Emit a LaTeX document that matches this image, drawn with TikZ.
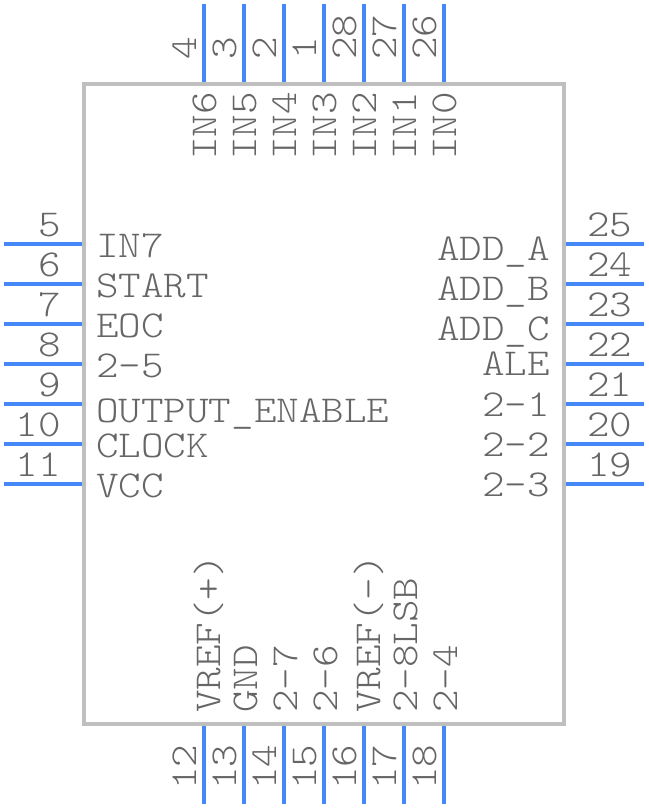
\documentclass[tikz,border=0pt]{standalone}
\usepackage{fontspec}
\setmonofont[FakeStretch=1.13]{Latin Modern Mono Light}
\definecolor{bodygray}{HTML}{BFBFBF}
\definecolor{pinblue}{HTML}{4488F8}
\definecolor{txtgray}{HTML}{666666}
\tikzset{
  body/.style={draw=bodygray,line width=4pt},
  pin/.style={draw=pinblue,line width=4pt},
  lbl/.style={text=txtgray,inner sep=0pt,font=\fontsize{38}{38}\ttfamily},
  lw/.style={lbl,anchor=base west},
  le/.style={lbl,anchor=base east},
  rlw/.style={lbl,anchor=base west,rotate=90}
}
\begin{document}
\begin{tikzpicture}[x=1pt,y=-1pt]
\useasboundingbox (0,0) rectangle (648,808);
\coordinate (bnw) at (84,84);
\coordinate (bse) at (564,724);
\draw[body] (bnw) rectangle (bse);
% left pins
\foreach \n/\y/\t/\by in {5/244/IN7/257,6/284/START/297,7/324/EOC/337,8/364/2-5/377,9/404/OUTPUT\_ENABLE/422,10/444/CLOCK/457,11/484/VCC/497}{
  \coordinate (a\n) at (4,\y); \coordinate (b\n) at (82,\y);
  \draw[pin] (a\n) -- (b\n);
  \node[le] (num\n) at (61,\y-8) {\n};
  \node[lw] (name\n) at (96,\by) {\t};
}
% right pins
\foreach \n/\y/\t/\by in {25/244/ADD\_A/260,24/284/ADD\_B/300,23/324/ADD\_C/340,22/364/ALE/375,21/404/2-1/416,20/444/2-2/456,19/484/2-3/496}{
  \coordinate (a\n) at (644,\y); \coordinate (b\n) at (566,\y);
  \draw[pin] (a\n) -- (b\n);
  \node[lw] (num\n) at (587,\y-8) {\n};
  \node[le] (name\n) at (550,\by) {\t};
}
% top pins
\foreach \n/\x/\t in {4/204/IN6,3/244/IN5,2/284/IN4,1/324/IN3,28/364/IN2,27/404/IN1,26/444/IN0}{
  \coordinate (a\n) at (\x,4); \coordinate (b\n) at (\x,82);
  \draw[pin] (a\n) -- (b\n);
  \node[rlw] (num\n) at (\x-8,60) {\n};
  \node[rlw] (name\n) at (\x+12,160) {\t};
}
% bottom pins
\foreach \n/\x/\t/\bx in {12/204/VREF(+)/220,13/244/GND/257,14/284/2-7/297,15/324/2-6/337,16/364/VREF(-)/380,17/404/2-8LSB/417,18/444/2-4/457}{
  \coordinate (a\n) at (\x,804); \coordinate (b\n) at (\x,726);
  \draw[pin] (a\n) -- (b\n);
  \node[rlw] (num\n) at (\x-8,790) {\n};
  \node[rlw] (name\n) at (\bx,713) {\t};
}
\end{tikzpicture}
\end{document}
